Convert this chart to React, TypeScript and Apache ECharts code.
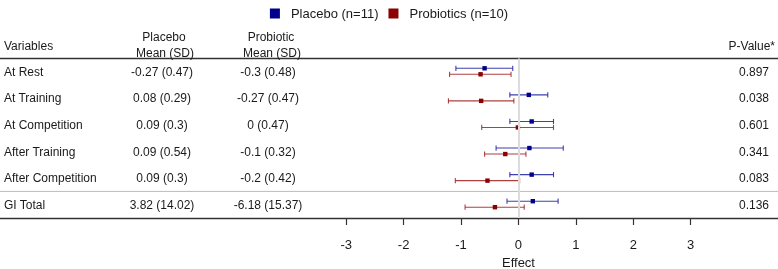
import React, { useEffect, useRef } from "react";
import * as echarts from "echarts";

const rows = ["At Rest", "At Training", "At Competition", "After Training", "After Competition", "GI Total"];
const placeboMeanSD = ["-0.27 (0.47)", "0.08 (0.29)", "0.09 (0.3)", "0.09 (0.54)", "0.09 (0.3)", "3.82 (14.02)"];
const probioticMeanSD = ["-0.3 (0.48)", "-0.27 (0.47)", "0 (0.47)", "-0.1 (0.32)", "-0.2 (0.42)", "-6.18 (15.37)"];
const pValues = ["0.897", "0.038", "0.601", "0.341", "0.083", "0.136"];
const placeboEst = [-0.59, 0.18, 0.23, 0.19, 0.23, 0.25];
const placeboLow = [-1.09, -0.15, -0.15, -0.39, -0.15, -0.2];
const placeboHigh = [-0.1, 0.51, 0.61, 0.78, 0.61, 0.69];
const probioticEst = [-0.66, -0.65, -0.01, -0.23, -0.54, -0.41];
const probioticLow = [-1.2, -1.22, -0.64, -0.59, -1.1, -0.93];
const probioticHigh = [-0.13, -0.08, 0.61, 0.13, 0.02, 0.1];
const tickValues = [-3, -2, -1, 0, 1, 2, 3];

const W = 778;
const H = 269;
const XMIN = -9.03;
const XMAX = 4.52;
const TOP = 58.5;
const GH = 159.5;
const FONT = "'Liberation Sans', Arial, sans-serif";
const TXT = "#1a1a1a";

export default function App() {
  const ref = useRef<HTMLDivElement>(null);
  useEffect(() => {
    if (!ref.current) return;
    const chart = echarts.init(ref.current, undefined, { renderer: "svg" });
    const rowH = GH / rows.length;
    const rowY = (i: number) => TOP + (i + 0.5) * rowH;
    const xPix = (v: number) => ((v - XMIN) / (XMAX - XMIN)) * W;

    const mkRender = (offset: number, lineColor: string, markColor: string) =>
      (params: any, api: any) => {
        const lo = api.value(0);
        const hi = api.value(1);
        const est = api.value(2);
        const r = api.value(3);
        const a = api.coord([lo, r]);
        const b = api.coord([hi, r]);
        const c = api.coord([est, r]);
        const y = a[1] + offset;
        const cap = 2.6;
        return {
          type: "group",
          children: [
            { type: "line", shape: { x1: a[0], y1: y, x2: b[0], y2: y }, style: { stroke: lineColor, lineWidth: 1.1 } },
            { type: "line", shape: { x1: a[0], y1: y - cap, x2: a[0], y2: y + cap }, style: { stroke: lineColor, lineWidth: 1.1 } },
            { type: "line", shape: { x1: b[0], y1: y - cap, x2: b[0], y2: y + cap }, style: { stroke: lineColor, lineWidth: 1.1 } },
            { type: "rect", shape: { x: c[0] - 2.2, y: y - 2.2, width: 4.4, height: 4.4 }, style: { fill: markColor } },
          ],
        };
      };

    const graphics: any[] = [];
    const txt = (text: string, x: number, y: number, align: string, size = 12) => ({
      type: "text",
      x,
      y,
      silent: true,
      style: { text, fontSize: size, fontFamily: FONT, fill: TXT, align, verticalAlign: "middle" },
    });
    graphics.push({ type: "line", shape: { x1: 0, y1: TOP, x2: W, y2: TOP }, style: { stroke: "#333", lineWidth: 1.3 } });
    graphics.push({ type: "line", shape: { x1: 0, y1: TOP + 5 * rowH, x2: W, y2: TOP + 5 * rowH }, style: { stroke: "#bbb", lineWidth: 1 } });
    graphics.push(txt("Variables", 4, 45.7, "left"));
    graphics.push(txt("Placebo", 164, 37, "center"));
    graphics.push(txt("Mean (SD)", 165, 53, "center"));
    graphics.push(txt("Probiotic", 271, 37, "center"));
    graphics.push(txt("Mean (SD)", 272, 53, "center"));
    graphics.push(txt("P-Value*", 775, 45.7, "right"));
    rows.forEach((r, i) => {
      graphics.push(txt(r, 4, rowY(i), "left"));
      graphics.push(txt(placeboMeanSD[i], 162, rowY(i), "center"));
      graphics.push(txt(probioticMeanSD[i], 268, rowY(i), "center"));
      graphics.push(txt(pValues[i], 769, rowY(i), "right"));
    });
    graphics.push(txt("Effect", xPix(0), 262.5, "center", 13));

    chart.setOption({
      animation: false,
      textStyle: { fontFamily: FONT },
      legend: {
        top: 2,
        left: "center",
        icon: "rect",
        itemWidth: 10,
        itemHeight: 10,
        itemGap: 10,
        textStyle: { fontSize: 13, color: TXT, fontFamily: FONT, padding: [0, 0, 0, 6] },
        data: ["Placebo (n=11)", "Probiotics (n=10)"],
      },
      grid: { left: 0, right: 0, top: TOP, height: GH },
      xAxis: {
        type: "value",
        min: XMIN,
        max: XMAX,
        splitLine: { show: false },
        axisLine: { show: true, onZero: false, lineStyle: { color: "#333", width: 1.4 } },
        axisTick: { show: true, customValues: tickValues, length: 7, lineStyle: { color: "#333", width: 1.2 } },
        axisLabel: { show: true, customValues: tickValues, fontSize: 13, color: TXT, margin: 20, fontFamily: FONT },
      },
      yAxis: { type: "value", min: -0.5, max: 5.5, inverse: true, show: false },
      graphic: graphics,
      series: [
        {
          name: "Placebo (n=11)",
          type: "custom",
          itemStyle: { color: "#00008B" },
          renderItem: mkRender(-3.5, "rgba(30,30,160,0.85)", "#00008B"),
          encode: { x: [0, 1, 2], y: 3 },
          data: rows.map((_, i) => [placeboLow[i], placeboHigh[i], placeboEst[i], i]),
          markLine: {
            silent: true,
            symbol: "none",
            label: { show: false },
            lineStyle: { color: "#dcdcdc", width: 2, type: "solid" },
            data: [{ xAxis: 0 }],
          },
          z: 3,
        },
        {
          name: "Probiotics (n=10)",
          type: "custom",
          itemStyle: { color: "#8B0000" },
          renderItem: mkRender(2.5, "rgba(160,30,30,0.85)", "#8B0000"),
          encode: { x: [0, 1, 2], y: 3 },
          data: rows.map((_, i) => [probioticLow[i], probioticHigh[i], probioticEst[i], i]),
          z: 3,
        },
      ],
    });
    return () => chart.dispose();
  }, []);
  return <div ref={ref} style={{ position: "fixed", left: 0, top: 0, width: W, height: H }} />;
}
